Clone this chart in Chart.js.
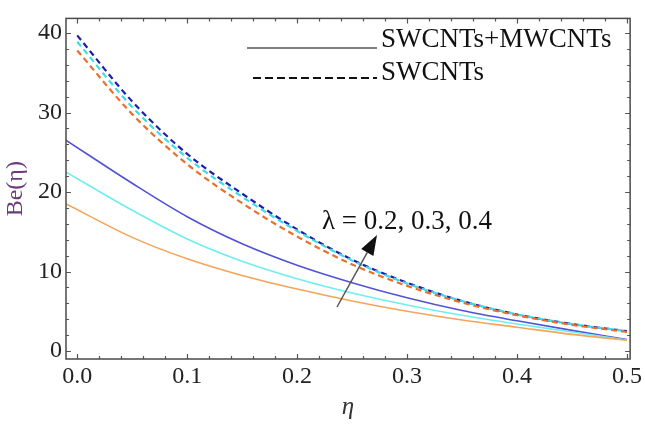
<!DOCTYPE html>
<html>
<head>
<meta charset="utf-8">
<script src="https://cdn.jsdelivr.net/npm/chart.js@4.4.1/dist/chart.umd.min.js"></script>
<style>
  body { margin: 0; background: #fff; }
  canvas { display: block; }
</style>
</head>
<body>
<canvas id="beChart" width="645" height="429"></canvas>
<script>
// eta values along the x axis
const etaSolid = [-0.01, 0.05, 0.1, 0.15, 0.2, 0.25, 0.3, 0.35, 0.4, 0.45, 0.5];
const etaDashed = [0, 0.05, 0.1, 0.15, 0.2, 0.25, 0.3, 0.35, 0.4, 0.45, 0.5];

// SWCNTs+MWCNTs (solid), lambda = 0.2, 0.3, 0.4
const hybridL02 = [18.5, 14.3, 11.6, 9.5, 7.8, 6.3, 5.0, 3.9, 3.0, 2.1, 1.35];
const hybridL03 = [22.5, 17.7, 14.1, 11.3, 9.1, 7.3, 5.8, 4.5, 3.4, 2.4, 1.4];
const hybridL04 = [26.5, 21.1, 16.9, 13.5, 10.8, 8.6, 6.7, 5.1, 3.8, 2.6, 1.45];

// SWCNTs (dashed), lambda = 0.2, 0.3, 0.4
const swL02 = [37.8, 29.8, 23.5, 18.6, 14.4, 10.9, 8.2, 6.1, 4.5, 3.3, 2.4];
const swL03 = [38.9, 30.7, 24.3, 19.4, 15.1, 11.4, 8.5, 6.3, 4.6, 3.4, 2.5];
const swL04 = [39.7, 31.4, 24.8, 19.8, 15.3, 11.5, 8.6, 6.3, 4.6, 3.4, 2.5];

const xTicks = [0, 0.1, 0.2, 0.3, 0.4, 0.5];
const yTicks = [0, 10, 20, 30, 40];

function pts(xs, ys) {
  return xs.map((x, i) => ({ x: x, y: ys[i] }));
}

function line(xs, ys, color, dashed) {
  return {
    data: pts(xs, ys),
    borderColor: color,
    borderWidth: dashed ? 2.2 : 1.6,
    borderDash: dashed ? [6, 4] : [],
    pointRadius: 0,
    fill: false,
    cubicInterpolationMode: "monotone",
  };
}

const serif = "'Liberation Serif', 'Times New Roman', serif";

// minor ticks, frame, legend, label and arrow
const extras = {
  id: "extras",
  afterDatasetsDraw(chart) {
    const ctx = chart.ctx;
    const a = chart.chartArea;
    const xs = chart.scales.x;
    const ys = chart.scales.y;
    ctx.save();
    ctx.strokeStyle = "#555";
    ctx.lineWidth = 1.2;
    ctx.beginPath();
    for (let v = 0; v <= 0.5001; v += 0.02) {
      const px = Math.round(xs.getPixelForValue(v)) + 0.5;
      const len = Math.abs(v * 10 - Math.round(v * 10)) < 1e-6 ? 5 : 3;
      ctx.moveTo(px, a.bottom); ctx.lineTo(px, a.bottom - len);
      ctx.moveTo(px, a.top); ctx.lineTo(px, a.top + len);
    }
    for (let v = 0; v <= 41; v += 2) {
      const py = Math.round(ys.getPixelForValue(v)) + 0.5;
      const len = v % 10 === 0 ? 5 : 3;
      ctx.moveTo(a.left, py); ctx.lineTo(a.left + len, py);
      ctx.moveTo(a.right, py); ctx.lineTo(a.right - len, py);
    }
    ctx.stroke();

    ctx.lineWidth = 1.5;
    ctx.strokeStyle = "#4a4a4a";
    ctx.strokeRect(a.left, a.top, a.right - a.left, a.bottom - a.top);

    // legend
    ctx.strokeStyle = "#555";
    ctx.lineWidth = 1.5;
    ctx.beginPath();
    ctx.moveTo(247, 48); ctx.lineTo(377, 48);
    ctx.stroke();
    ctx.strokeStyle = "#111";
    ctx.lineWidth = 2.2;
    ctx.setLineDash([8, 4]);
    ctx.beginPath();
    ctx.moveTo(253, 78); ctx.lineTo(377, 78);
    ctx.stroke();
    ctx.setLineDash([]);

    ctx.fillStyle = "#111";
    ctx.font = "27px " + serif;
    ctx.textAlign = "left";
    ctx.textBaseline = "alphabetic";
    ctx.fillText("SWCNTs+MWCNTs", 381, 47);
    ctx.fillText("SWCNTs", 381, 80);

    // lambda label
    ctx.font = "27px " + serif;
    ctx.fillText("\u03bb = 0.2, 0.3, 0.4", 322, 229);

    // arrow
    const x0 = 337, y0 = 307, x1 = 377, y1 = 235;
    const ang = Math.atan2(y1 - y0, x1 - x0);
    const hl = 20, hw = 7;
    const bx = x1 - hl * Math.cos(ang), by = y1 - hl * Math.sin(ang);
    ctx.strokeStyle = "#555";
    ctx.lineWidth = 1.5;
    ctx.beginPath();
    ctx.moveTo(x0, y0); ctx.lineTo(bx, by);
    ctx.stroke();
    ctx.fillStyle = "#111";
    ctx.beginPath();
    ctx.moveTo(x1, y1);
    ctx.lineTo(bx + hw * Math.sin(ang), by - hw * Math.cos(ang));
    ctx.lineTo(bx - hw * Math.sin(ang), by + hw * Math.cos(ang));
    ctx.closePath();
    ctx.fill();
    ctx.restore();
  },
};

const config = {
  type: "line",
  data: {
    datasets: [
      line(etaSolid, hybridL02, "#f5a55a", false),
      line(etaSolid, hybridL03, "#6eeef0", false),
      line(etaSolid, hybridL04, "#5252d8", false),
      line(etaDashed, swL02, "#e8702a", true),
      line(etaDashed, swL03, "#40dce6", true),
      line(etaDashed, swL04, "#1e1eaa", true),
    ],
  },
  options: {
    responsive: false,
    animation: false,
    layout: { padding: { top: 2, right: 12, left: 0, bottom: 0 } },
    plugins: { legend: { display: false }, tooltip: { enabled: false } },
    scales: {
      x: {
        type: "linear",
        min: -0.0102,
        max: 0.5029,
        afterBuildTicks: (s) => { s.ticks = xTicks.map((v) => ({ value: v })); },
        afterFit: (s) => { s.height = 70; },
        grid: { display: false, drawTicks: false },
        border: { display: false },
        ticks: {
          color: "#222",
          padding: 3,
          maxRotation: 0,
          autoSkip: false,
          font: { family: serif, size: 24 },
          callback: (v) => v.toFixed(1),
        },
        title: {
          display: true,
          text: "\u03b7",
          color: "#333",
          font: { family: serif, size: 25, style: "italic" },
          padding: { top: 0, bottom: 7 },
        },
      },
      y: {
        min: -1,
        max: 41.84,
        afterBuildTicks: (s) => { s.ticks = yTicks.map((v) => ({ value: v })); },
        afterFit: (s) => { s.width = 66; },
        grid: { display: false, drawTicks: false },
        border: { display: false },
        ticks: {
          color: "#222",
          padding: 4,
          font: { family: serif, size: 24 },
        },
        title: {
          display: true,
          text: "Be(\u03b7)",
          color: "#6b3a7a",
          font: { family: serif, size: 24 },
          padding: { top: 1, bottom: 0 },
        },
      },
    },
  },
  plugins: [extras],
};

const beChart = new Chart(document.getElementById("beChart"), config);
</script>
</body>
</html>
